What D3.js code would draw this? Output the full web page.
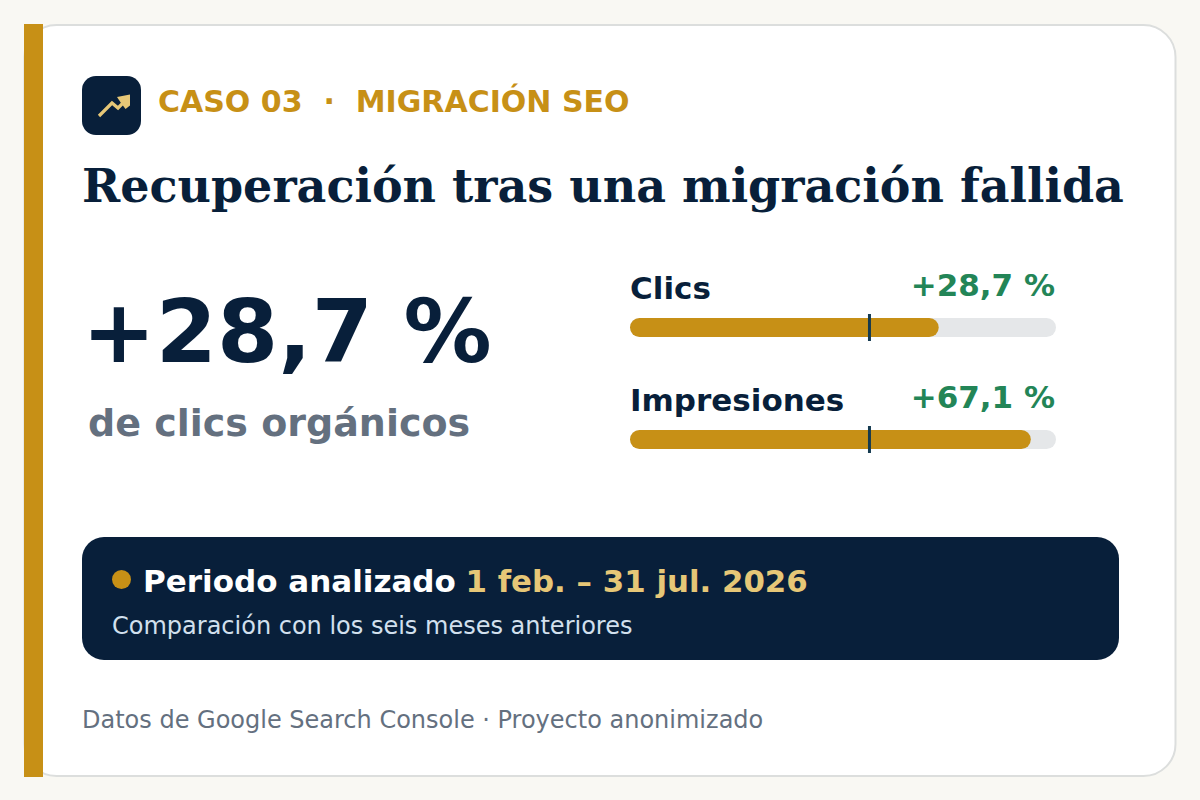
<!DOCTYPE html>
<html><head><meta charset="utf-8">
<script src="https://cdn.jsdelivr.net/npm/d3@7/dist/d3.min.js"></script>
<style>html,body{margin:0;padding:0;background:#f9f8f3;overflow:hidden}svg{display:block}</style>
</head><body><svg id="c" width="1200" height="800"></svg>
<script>
const metricNames = ["Clics", "Impresiones"];
const metricValues = [128.7, 167.1];
const metricLabels = ["+28,7 %", "+67,1 %"];
const baselineValue = 100;
const scaleMax = 177.6;
const eyebrow = "CASO 03  ·  MIGRACIÓN SEO";
const title = "Recuperación tras una migración fallida";
const headline = "+28,7 %";
const headlineSub = "de clics orgánicos";
const periodLabel = "Periodo analizado";
const periodDates = "1 feb. – 31 jul. 2026";
const periodNote = "Comparación con los seis meses anteriores";
const footer = "Datos de Google Search Console · Proyecto anonimizado";

const NAVY="#081f3a", GOLD="#c79016", SAND="#e6c777", GREEN="#238557", GREY="#64707f", TICK="#143a50";
const SANS="'DejaVu Sans',sans-serif", SERIF="'DejaVu Serif',serif";
const svg=d3.select("#c");
const txt=(s,x,y,size,fill,weight,family,anchor)=>svg.append("text").attr("x",x).attr("y",y)
  .attr("font-size",size).attr("fill",fill).attr("font-weight",weight||"normal")
  .attr("font-family",family||SANS).attr("text-anchor",anchor||"start")
  .attr("xml:space","preserve").style("white-space","pre").text(s);

// card
svg.append("rect").attr("x",24.5).attr("y",25).attr("width",1151).attr("height",751).attr("rx",32)
  .attr("fill","#fff").attr("stroke","#dcdedd").attr("stroke-width",2);
svg.append("rect").attr("x",24).attr("y",24).attr("width",19).attr("height",753).attr("fill",GOLD);

// icon
svg.append("rect").attr("x",82).attr("y",76).attr("width",59).attr("height",59).attr("rx",14).attr("fill",NAVY);
svg.append("path").attr("d","M99 116 L112 103 L118 108 L126 100").attr("fill","none").attr("stroke",SAND).attr("stroke-width",3.2);
svg.append("path").attr("d","M117 97 L130 94.5 L130 105.5 L125.5 109 L121 103 Z").attr("fill",SAND);

txt(eyebrow,158,112,30,GOLD,"bold");
txt(title,82,202,46,NAVY,"bold",SERIF);
txt(headline,82,362,88,NAVY,"bold");
txt(headlineSub,88,436,38,GREY,"bold");

// bars
const x=d3.scaleLinear().domain([0,scaleMax]).range([630,1056]);
const y=d3.scaleBand().domain(metricNames).range([262,486]);
const barH=19;
const rows=svg.selectAll("g.row").data(metricNames).join("g").attr("class","row")
  .attr("transform",d=>`translate(0,${y(d)})`);
rows.append("text").attr("x",630).attr("y",37).attr("font-size",31).attr("font-weight","bold").attr("font-family",SANS)
  .attr("fill",NAVY).text(d=>d);
rows.append("text").attr("x",1055).attr("y",34).attr("font-size",31).attr("font-weight","bold").attr("font-family",SANS)
  .attr("text-anchor","end").attr("fill",GREEN).text((d,i)=>metricLabels[i]);
rows.append("rect").attr("x",x(0)).attr("y",56).attr("width",x(scaleMax)-x(0)).attr("height",barH).attr("rx",9.5).attr("fill","#e5e7e9");
rows.append("rect").attr("x",x(0)).attr("y",56).attr("width",(d,i)=>x(metricValues[i])-x(0)).attr("height",barH).attr("rx",9.5).attr("fill",GOLD);
rows.append("line").attr("x1",x(baselineValue)-0.4).attr("x2",x(baselineValue)-0.4).attr("y1",52).attr("y2",79)
  .attr("stroke",TICK).attr("stroke-width",3);

// period box
svg.append("rect").attr("x",82).attr("y",537).attr("width",1037).attr("height",123).attr("rx",22).attr("fill",NAVY);
svg.append("circle").attr("cx",121.5).attr("cy",579.5).attr("r",9.5).attr("fill",GOLD);
txt(periodLabel,143,592,31,"#fff","bold");
txt(periodDates,465.5,592,30.85,SAND,"bold");
txt(periodNote,112,634,24,"#d2e0ee");
txt(footer,82,727.5,24,GREY);
</script></body></html>
